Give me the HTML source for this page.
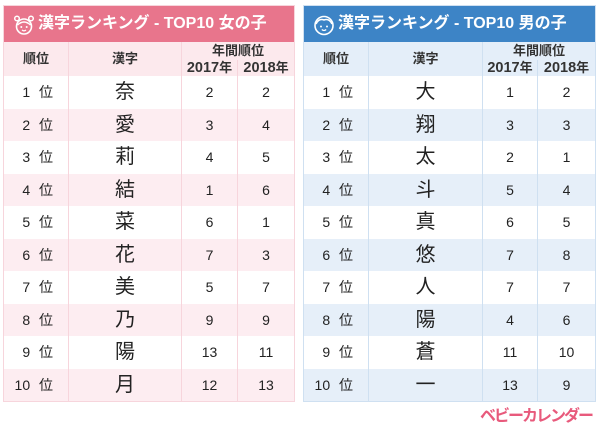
<!DOCTYPE html>
<html><head><meta charset="utf-8">
<style>
*{margin:0;padding:0;box-sizing:border-box}
body{width:600px;height:429px;background:#fff;position:relative;overflow:hidden;font-family:"Liberation Sans","Noto Sans CJK JP",sans-serif;color:#222}
.t{position:absolute;top:5px;border-collapse:collapse;table-layout:fixed}
.t td{text-align:center;vertical-align:middle;font-size:14px;padding:0;line-height:16px;overflow:hidden}
.hd td{height:36px;color:#fff;font-weight:bold;font-size:16px;text-align:left;padding-left:34px;position:relative;white-space:nowrap;line-height:20px}
.ch td{font-weight:bold;font-size:13px;color:#333;line-height:14px}
.ch .n{font-size:14.5px}
.r1 td{height:18px}
.r2 td{height:16px}
.rank{text-align:right!important;padding-right:15px!important;word-spacing:5px}
.k{font-size:20px!important;line-height:22px!important}
.pk .hd td{background:#e8758c}
.pk .ch td{background:#fce9ed}
.pk td{border-left:1px solid #f7d5dc;border-right:1px solid #f7d5dc}
.pk{border:1px solid #f7d5dc}
.pk tr.e td{background:#fdedf1}
.bl .hd td{background:#3d84c6}
.bl .ch td{background:#e4eef9}
.bl td{border-left:1px solid #cfe0f1;border-right:1px solid #cfe0f1}
.bl{border:1px solid #cfe0f1}
.bl tr.e td{background:#e6eff9}
.icon{position:absolute;left:9px;top:8px}
.logo{position:absolute;left:480px;top:402px;font-size:16px;font-weight:bold;color:#e85a7c;letter-spacing:-2px;white-space:nowrap}
</style></head><body>

<table class="t pk" style="left:3px;width:291px">
<colgroup><col style="width:65px"><col style="width:113px"><col style="width:56px"><col style="width:57px"></colgroup>
<tr class="hd"><td colspan="4"><svg class="icon" width="22" height="22" viewBox="0 0 22 22"><circle cx="11" cy="12.5" r="7.5" fill="none" stroke="#fff" stroke-width="1.6"/><circle cx="4" cy="4.5" r="2.3" fill="none" stroke="#fff" stroke-width="1.5"/><circle cx="18" cy="4.5" r="2.3" fill="none" stroke="#fff" stroke-width="1.5"/><path d="M4.5 11 Q11 5 17.5 11" fill="none" stroke="#fff" stroke-width="1.5"/><circle cx="8.3" cy="13" r="1" fill="#fff"/><circle cx="13.7" cy="13" r="1" fill="#fff"/><path d="M9 16 Q11 17.8 13 16" fill="none" stroke="#fff" stroke-width="1.2"/></svg>漢字ランキング - TOP10 女の子</td></tr>
<tr class="ch r1"><td rowspan="2">順位</td><td rowspan="2">漢字</td><td colspan="2">年間順位</td></tr>
<tr class="ch r2"><td><span class="n">2017</span>年</td><td><span class="n">2018</span>年</td></tr>
<tr style="height:33px"><td class="rank">1 位</td><td class="k">奈</td><td>2</td><td>2</td></tr>
<tr class="e" style="height:32px"><td class="rank">2 位</td><td class="k">愛</td><td>3</td><td>4</td></tr>
<tr style="height:33px"><td class="rank">3 位</td><td class="k">莉</td><td>4</td><td>5</td></tr>
<tr class="e" style="height:32px"><td class="rank">4 位</td><td class="k">結</td><td>1</td><td>6</td></tr>
<tr style="height:33px"><td class="rank">5 位</td><td class="k">菜</td><td>6</td><td>1</td></tr>
<tr class="e" style="height:32px"><td class="rank">6 位</td><td class="k">花</td><td>7</td><td>3</td></tr>
<tr style="height:33px"><td class="rank">7 位</td><td class="k">美</td><td>5</td><td>7</td></tr>
<tr class="e" style="height:32px"><td class="rank">8 位</td><td class="k">乃</td><td>9</td><td>9</td></tr>
<tr style="height:33px"><td class="rank">9 位</td><td class="k">陽</td><td>13</td><td>11</td></tr>
<tr class="e" style="height:33px"><td class="rank">10 位</td><td class="k">月</td><td>12</td><td>13</td></tr>
</table>

<table class="t bl" style="left:303px;width:292px">
<colgroup><col style="width:65px"><col style="width:114px"><col style="width:55px"><col style="width:58px"></colgroup>
<tr class="hd"><td colspan="4"><svg class="icon" width="22" height="22" viewBox="0 0 22 22"><circle cx="11" cy="11.5" r="9" fill="none" stroke="#fff" stroke-width="1.6"/><path d="M3 10 Q6 4 11 6 Q16 4 19 10" fill="none" stroke="#fff" stroke-width="1.5"/><circle cx="8" cy="12.5" r="1" fill="#fff"/><circle cx="14" cy="12.5" r="1" fill="#fff"/><path d="M8.8 15.5 Q11 17.5 13.2 15.5" fill="none" stroke="#fff" stroke-width="1.2"/></svg>漢字ランキング - TOP10 男の子</td></tr>
<tr class="ch r1"><td rowspan="2">順位</td><td rowspan="2">漢字</td><td colspan="2">年間順位</td></tr>
<tr class="ch r2"><td><span class="n">2017</span>年</td><td><span class="n">2018</span>年</td></tr>
<tr style="height:33px"><td class="rank">1 位</td><td class="k">大</td><td>1</td><td>2</td></tr>
<tr class="e" style="height:32px"><td class="rank">2 位</td><td class="k">翔</td><td>3</td><td>3</td></tr>
<tr style="height:33px"><td class="rank">3 位</td><td class="k">太</td><td>2</td><td>1</td></tr>
<tr class="e" style="height:32px"><td class="rank">4 位</td><td class="k">斗</td><td>5</td><td>4</td></tr>
<tr style="height:33px"><td class="rank">5 位</td><td class="k">真</td><td>6</td><td>5</td></tr>
<tr class="e" style="height:32px"><td class="rank">6 位</td><td class="k">悠</td><td>7</td><td>8</td></tr>
<tr style="height:33px"><td class="rank">7 位</td><td class="k">人</td><td>7</td><td>7</td></tr>
<tr class="e" style="height:32px"><td class="rank">8 位</td><td class="k">陽</td><td>4</td><td>6</td></tr>
<tr style="height:33px"><td class="rank">9 位</td><td class="k">蒼</td><td>11</td><td>10</td></tr>
<tr class="e" style="height:33px"><td class="rank">10 位</td><td class="k">一</td><td>13</td><td>9</td></tr>
</table>

<div class="logo">ベビーカレンダー</div>
</body></html>
